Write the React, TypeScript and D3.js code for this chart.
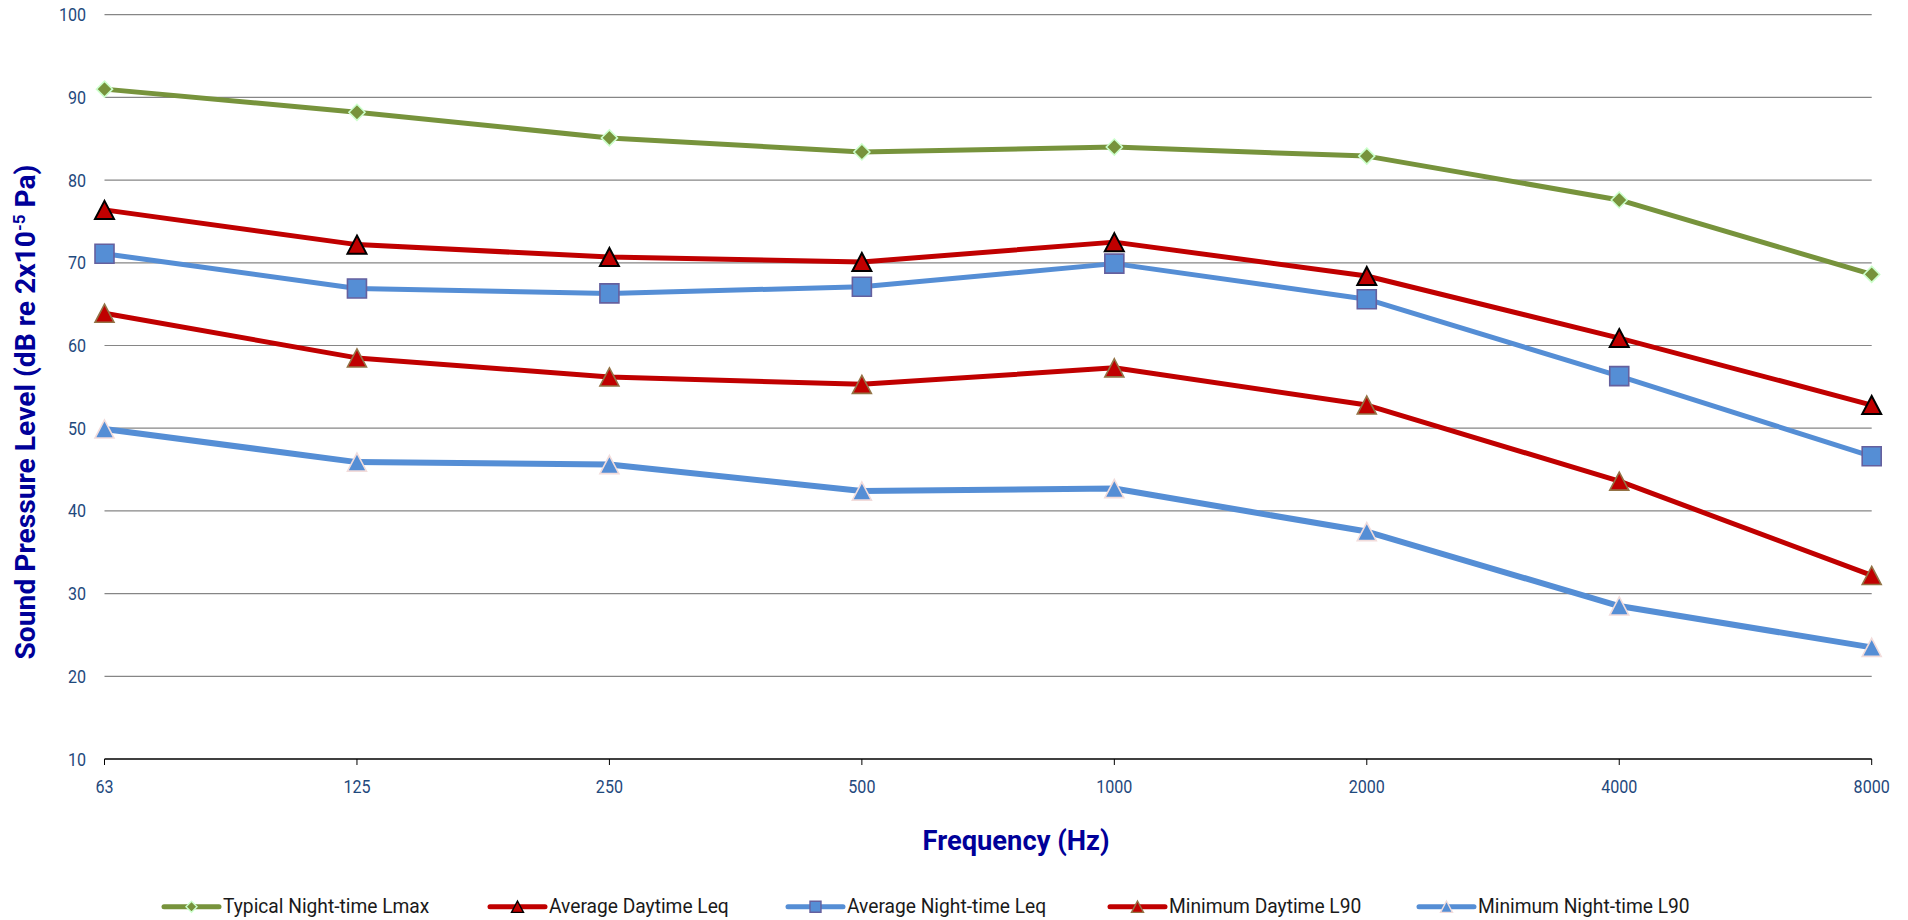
import React from "react";
import * as d3 from "d3";

// Octave-band centre frequencies (Hz)
const frequencies = ["63", "125", "250", "500", "1000", "2000", "4000", "8000"];

// Sound pressure levels in dB re 2x10^-5 Pa
const typicalNightLmax = [91.0, 88.2, 85.1, 83.4, 84.0, 82.9, 77.6, 68.6];
const averageDayLeq = [76.4, 72.2, 70.7, 70.1, 72.5, 68.4, 60.9, 52.8];
const averageNightLeq = [71.1, 66.9, 66.3, 67.1, 69.9, 65.6, 56.3, 46.6];
const minimumDayL90 = [63.9, 58.5, 56.2, 55.3, 57.3, 52.8, 43.6, 32.2];
const minimumNightL90 = [49.9, 45.9, 45.6, 42.4, 42.7, 37.5, 28.5, 23.5];

const yTickValues = [10, 20, 30, 40, 50, 60, 70, 80, 90, 100];

type MarkerKind = "diamond" | "triangle" | "square";

interface Series {
  name: string;
  values: number[];
  line: string;
  width: number;
  marker: MarkerKind;
  fill: string;
  stroke: string;
  markerStroke: number;
}

const series: Series[] = [
  { name: "Typical Night-time Lmax", values: typicalNightLmax, line: "#77933C", width: 5, marker: "diamond", fill: "#77933C", stroke: "#CCFFCC", markerStroke: 1.6 },
  { name: "Average Daytime Leq", values: averageDayLeq, line: "#C00000", width: 5, marker: "triangle", fill: "#C00000", stroke: "#000000", markerStroke: 2 },
  { name: "Average Night-time Leq", values: averageNightLeq, line: "#558ED5", width: 5, marker: "square", fill: "#558ED5", stroke: "#65609E", markerStroke: 1.6 },
  { name: "Minimum Daytime L90", values: minimumDayL90, line: "#C00000", width: 5, marker: "triangle", fill: "#C00000", stroke: "#937346", markerStroke: 1.6 },
  { name: "Minimum Night-time L90", values: minimumNightL90, line: "#558ED5", width: 6, marker: "triangle", fill: "#558ED5", stroke: "#F2DCDB", markerStroke: 1.6 },
];

const WIDTH = 1908;
const HEIGHT = 920;
const PLOT = { left: 104.5, right: 1871.7, top: 14.7, bottom: 759 };
const TICK_CONDENSE = 0.87;
const LEGEND_CONDENSE = 0.96;
const FONT = "Roboto, 'DejaVu Sans', sans-serif";
const TICK_COLOR = "#1F497D";
const TITLE_COLOR = "#000099";
const LEGEND_X = [164, 490, 788, 1110, 1419];

function markerPath(kind: MarkerKind, size: number): string {
  const h = size / 2;
  if (kind === "diamond") return `M0,${-h}L${h},0L0,${h}L${-h},0Z`;
  if (kind === "square") return `M${-h},${-h}H${h}V${h}H${-h}Z`;
  const th = size * 0.95;
  return `M0,${-th / 2}L${h},${th / 2}L${-h},${th / 2}Z`;
}

const markerSize: Record<MarkerKind, number> = { diamond: 16, triangle: 19, square: 19 };
const legendMarkerSize: Record<MarkerKind, number> = { diamond: 11, triangle: 12, square: 11 };

function Condensed(props: {
  x: number;
  y: number;
  factor: number;
  anchor?: "start" | "middle" | "end";
  size: number;
  fill: string;
  children: React.ReactNode;
}) {
  const { x, y, factor, anchor = "start", size, fill, children } = props;
  return (
    <g transform={`translate(${x},${y}) scale(${factor},1)`}>
      <text x={0} y={0} textAnchor={anchor} fontFamily={FONT} fontSize={size} fill={fill}>
        {children}
      </text>
    </g>
  );
}

export default function App() {
  const x = d3.scalePoint<string>().domain(frequencies).range([PLOT.left, PLOT.right]);
  const y = d3.scaleLinear().domain([10, 100]).range([PLOT.bottom, PLOT.top]);

  const lineGen = (vals: number[]) =>
    d3
      .line<number>()
      .x((_, i) => x(frequencies[i]) as number)
      .y((v) => y(v))(vals) as string;

  const yTitleLength = 495;
  const yTitleCenter = 412;
  const xTitleLength = 187;
  const xTitleCenter = 1016;

  return (
    <svg
      width={WIDTH}
      height={HEIGHT}
      style={{ position: "absolute", left: 0, top: 0, display: "block", background: "#ffffff" }}
    >
      {/* horizontal gridlines */}
      {yTickValues
        .filter((v) => v > 10)
        .map((v) => (
          <line key={`g${v}`} x1={PLOT.left} x2={PLOT.right} y1={y(v)} y2={y(v)} stroke="#868686" strokeWidth={1.2} />
        ))}

      {/* category axis */}
      <line x1={PLOT.left} x2={PLOT.right} y1={PLOT.bottom} y2={PLOT.bottom} stroke="#000000" strokeWidth={1.3} />
      {frequencies.map((f) => (
        <line key={`t${f}`} x1={x(f)} x2={x(f)} y1={PLOT.bottom} y2={PLOT.bottom + 6} stroke="#000000" strokeWidth={1} />
      ))}

      {/* value axis labels */}
      {yTickValues.map((v) => (
        <Condensed key={`yl${v}`} x={86} y={y(v) + 6.5} factor={TICK_CONDENSE} anchor="end" size={18.5} fill={TICK_COLOR}>
          {v}
        </Condensed>
      ))}

      {/* category labels */}
      {frequencies.map((f) => (
        <Condensed key={`xl${f}`} x={x(f) as number} y={792.5} factor={TICK_CONDENSE} anchor="middle" size={18.5} fill={TICK_COLOR}>
          {f}
        </Condensed>
      ))}

      {/* series lines */}
      {series.map((s) => (
        <path key={`l${s.name}`} d={lineGen(s.values)} fill="none" stroke={s.line} strokeWidth={s.width} strokeLinejoin="round" />
      ))}

      {/* series markers */}
      {series.map((s) => (
        <g key={`m${s.name}`}>
          {s.values.map((v, i) => (
            <path
              key={i}
              transform={`translate(${x(frequencies[i])},${y(v)})`}
              d={markerPath(s.marker, markerSize[s.marker])}
              fill={s.fill}
              stroke={s.stroke}
              strokeWidth={s.markerStroke}
              strokeLinejoin="miter"
            />
          ))}
        </g>
      ))}

      {/* axis titles */}
      <text
        x={xTitleCenter - xTitleLength / 2}
        y={850}
        textLength={xTitleLength}
        lengthAdjust="spacingAndGlyphs"
        fontFamily={FONT}
        fontSize={27}
        fontWeight="bold"
        fill={TITLE_COLOR}
      >
        Frequency (Hz)
      </text>
      <text
        transform={`translate(35,${yTitleCenter + yTitleLength / 2}) rotate(-90)`}
        x={0}
        y={0}
        textLength={yTitleLength}
        lengthAdjust="spacingAndGlyphs"
        fontFamily={FONT}
        fontSize={28}
        fontWeight="bold"
        fill={TITLE_COLOR}
      >
        Sound Pressure Level (dB re 2x10
        <tspan dy={-10} fontSize={17}>
          -5
        </tspan>
        <tspan dy={10}> Pa)</tspan>
      </text>

      {/* legend */}
      {series.map((s, i) => {
        const lx = LEGEND_X[i];
        const ly = 906.7;
        return (
          <g key={`lg${s.name}`}>
            <line x1={lx} x2={lx + 55} y1={ly} y2={ly} stroke={s.line} strokeWidth={5} strokeLinecap="round" />
            <path
              transform={`translate(${lx + 27.5},${ly})`}
              d={markerPath(s.marker, legendMarkerSize[s.marker])}
              fill={s.fill}
              stroke={s.stroke}
              strokeWidth={1.4}
            />
            <Condensed x={lx + 59} y={913.3} factor={LEGEND_CONDENSE} size={20} fill="#1A1A1A">
              {s.name}
            </Condensed>
          </g>
        );
      })}
    </svg>
  );
}
